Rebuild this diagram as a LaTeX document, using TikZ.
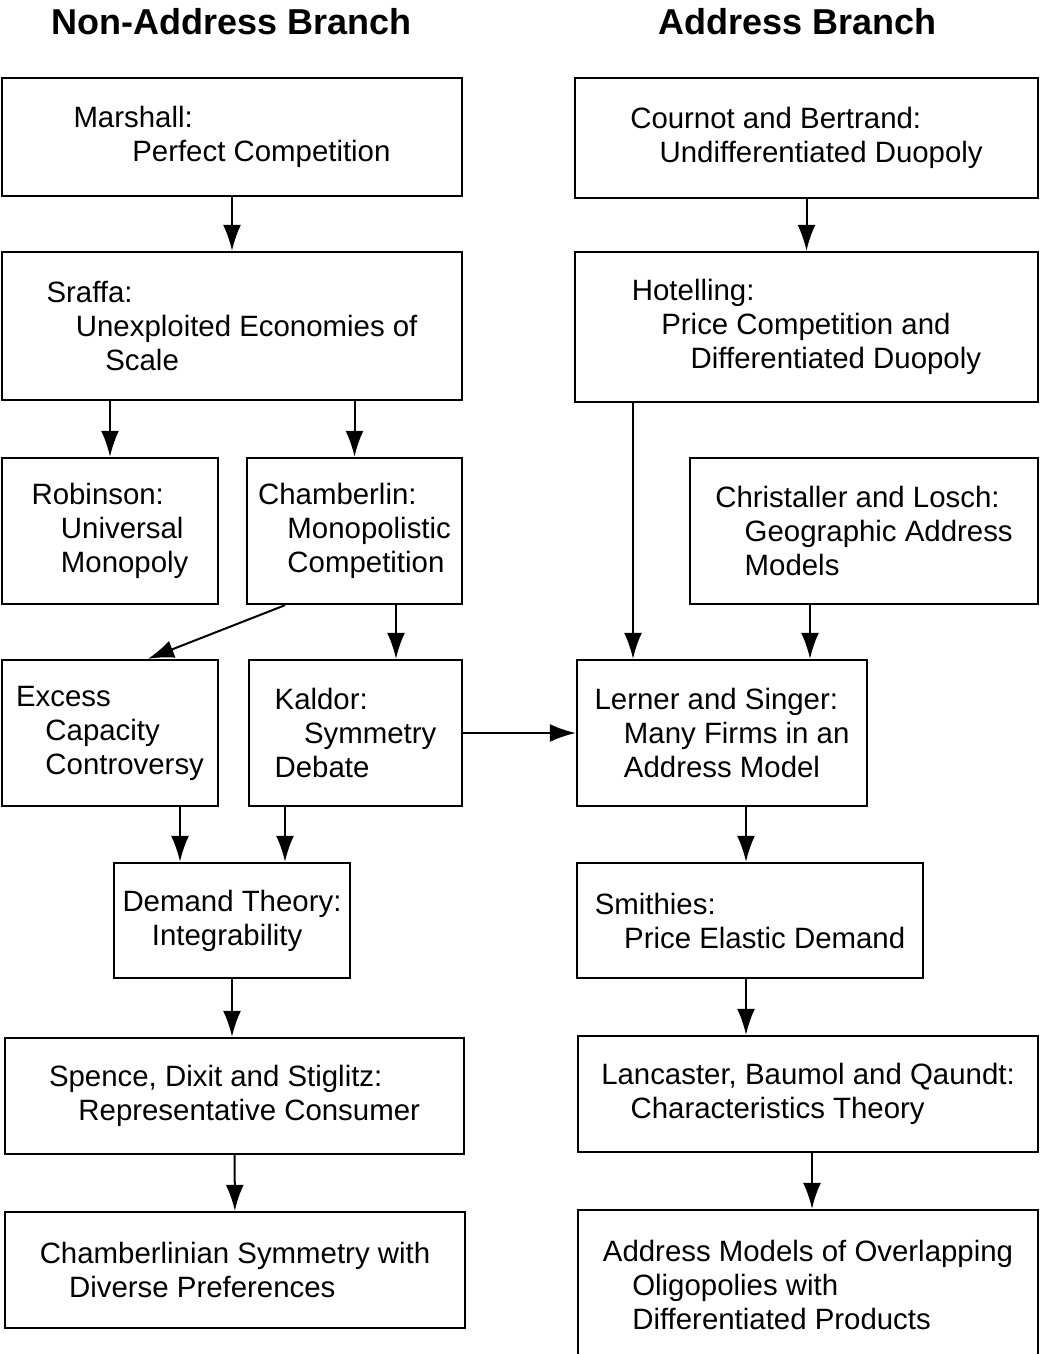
\documentclass[tikz,border=0pt]{standalone}
\usepackage{fontspec}
\setmainfont{Liberation Sans}
\usetikzlibrary{arrows.meta}
\begin{document}
\begin{tikzpicture}[x=0.5pt, y=-0.5pt, >={Latex[length=13pt,width=9pt]},
  box/.style={draw, line width=1.2pt, align=left, inner sep=0pt,
    font=\fontsize{14.7}{17}\selectfont},
  head/.style={font=\fontsize{18}{20}\selectfont\bfseries},
  link/.style={->, line width=1pt}]
  \useasboundingbox (0,0) rectangle (1040,1354);

  % column titles
  \node[head] (nonaddr) at (232,22) {Non-Address Branch};
  \node[head] (addr) at (798,22) {Address Branch};

  % non-address branch
  \node[box, minimum width=230pt, minimum height=59pt] (marshall) at (232,137)
    {Marshall:\\\hspace*{2em}Perfect Competition};
  \node[box, minimum width=230pt, minimum height=74pt] (sraffa) at (232,326)
    {Sraffa:\\\hspace*{1em}Unexploited Economies of\\\hspace*{2em}Scale};
  \node[box, minimum width=108pt, minimum height=73pt] (robinson) at (110,531)
    {Robinson:\\\hspace*{1em}Universal\\\hspace*{1em}Monopoly};
  \node[box, minimum width=107.5pt, minimum height=73pt] (chamberlin) at (354.5,531)
    {Chamberlin:\\\hspace*{1em}Monopolistic\\\hspace*{1em}Competition};
  \node[box, minimum width=108pt, minimum height=73pt] (excess) at (110,733)
    {Excess\\\hspace*{1em}Capacity\\\hspace*{1em}Controversy};
  \node[box, minimum width=106.5pt, minimum height=73pt] (kaldor) at (355.5,733)
    {Kaldor:\\\hspace*{1em}Symmetry\\Debate};
  \node[box, minimum width=118pt, minimum height=57.5pt] (demand) at (232,920.5)
    {Demand Theory:\\\hspace*{1em}Integrability};
  \node[box, minimum width=229.5pt, minimum height=58pt] (spence) at (234.5,1096)
    {Spence, Dixit and Stiglitz:\\\hspace*{1em}Representative Consumer};
  \node[box, minimum width=230pt, minimum height=58pt] (chsym) at (235,1270)
    {Chamberlinian Symmetry with\\\hspace*{1em}Diverse Preferences};

  % address branch
  \node[box, minimum width=231.5pt, minimum height=60pt] (cournot) at (806.5,138)
    {Cournot and Bertrand:\\\hspace*{1em}Undifferentiated Duopoly};
  \node[box, minimum width=231.5pt, minimum height=75pt] (hotelling) at (806.5,327)
    {Hotelling:\\\hspace*{1em}Price Competition and\\\hspace*{2em}Differentiated Duopoly};
  \node[box, minimum width=174pt, minimum height=73pt] (christaller) at (864,531)
    {Christaller and Losch:\\\hspace*{1em}Geographic Address\\\hspace*{1em}Models};
  \node[box, minimum width=145pt, minimum height=73pt] (lerner) at (722,733)
    {Lerner and Singer:\\\hspace*{1em}Many Firms in an\\\hspace*{1em}Address Model};
  \node[box, minimum width=173pt, minimum height=57.5pt] (smithies) at (750,920.5)
    {Smithies:\\\hspace*{1em}Price Elastic Demand};
  \node[box, minimum width=230pt, minimum height=58pt] (lancaster) at (808,1094)
    {Lancaster, Baumol and Qaundt:\\\hspace*{1em}Characteristics Theory};
  \node[box, minimum width=230pt, minimum height=75pt] (overlap) at (808,1285)
    {Address Models of Overlapping\\\hspace*{1em}Oligopolies with\\\hspace*{1em}Differentiated Products};

  % connectors
  \draw[link] (marshall) -- (sraffa);
  \draw[link] (robinson.north |- sraffa.south) -- (robinson.north);
  \draw[link] (chamberlin.north |- sraffa.south) -- (chamberlin.north);
  \draw[link] ([xshift=-34.75pt]chamberlin.south) -- ([xshift=19pt]excess.north);
  \draw[link] ([xshift=20.25pt]kaldor.north |- chamberlin.south) -- ([xshift=20.25pt]kaldor.north);
  \draw[link] ([xshift=-26pt]demand.north |- excess.south) -- ([xshift=-26pt]demand.north);
  \draw[link] ([xshift=26.5pt]demand.north |- kaldor.south) -- ([xshift=26.5pt]demand.north);
  \draw[link] (demand.south) -- (demand.south |- spence.north);
  \draw[link] (spence) -- (chsym);
  \draw[link] (cournot) -- (hotelling);
  \draw[link] ([xshift=-44.5pt]lerner.north |- hotelling.south) -- ([xshift=-44.5pt]lerner.north);
  \draw[link] ([xshift=-27pt]christaller.south) -- ([xshift=-27pt]christaller.south |- lerner.north);
  \draw[link] (kaldor) -- (lerner);
  \draw[link] ([xshift=12pt]lerner.south) -- ([xshift=12pt]lerner.south |- smithies.north);
  \draw[link] ([xshift=-2pt]smithies.south) -- ([xshift=-2pt]smithies.south |- lancaster.north);
  \draw[link] ([xshift=2pt]lancaster.south) -- ([xshift=2pt]lancaster.south |- overlap.north);
\end{tikzpicture}
\end{document}
